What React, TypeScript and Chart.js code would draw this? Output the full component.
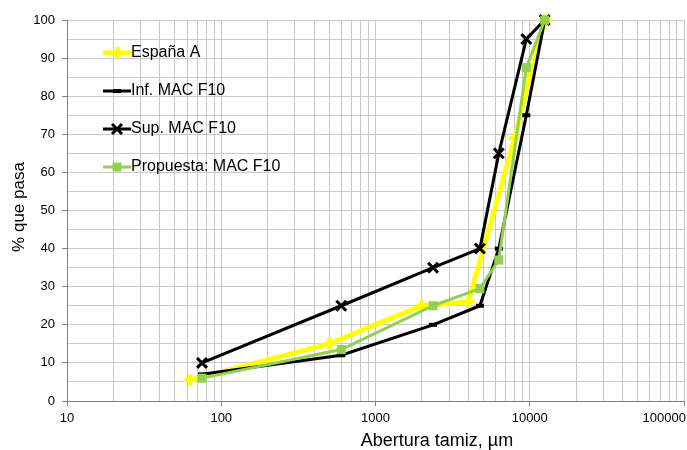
import React, { useEffect, useRef } from "react";
import { Chart, registerables } from "chart.js";

Chart.register(...registerables);

// ---- data ----
const sievesEspana = [63, 500, 2000, 4000, 8000, 10000, 12500];
const espanaA = [5.5, 15, 25, 26, 69, 85, 100];

const sievesMac = [75, 600, 2360, 4750, 6300, 9500, 12500];
const infMac = [7, 12, 20, 25, 40, 75, 100];
const supMac = [10, 25, 35, 40, 65, 95, 100];
const propuesta = [6, 13.5, 25, 29.5, 37, 87.5, 100];

const seriesNames = ["España A", "Inf. MAC F10", "Sup. MAC F10", "Propuesta: MAC F10"];
const xTickLabels = ["10", "100", "1000", "10000", "100000"];
const xTitle = "Abertura tamiz, µm";
const yTitle = "% que pasa";

const FONT = '"Liberation Sans", Arial, Helvetica, sans-serif';
const YELLOW = "#FFFF00";
const GREEN = "#92D050";
const BLACK = "#000000";

const pts = (xs: number[], ys: number[]) => xs.map((x, i) => ({ x, y: ys[i] }));

const isDecade = (v: number | undefined) => {
  if (!v || v <= 0) return false;
  const l = Math.log10(v);
  return Math.abs(l - Math.round(l)) < 1e-9;
};

// grid values for the log axis: 1..9 x each decade
const xGridValues: number[] = [];
for (let e = 1; e <= 4; e++) {
  for (let m = 1; m <= 9; m++) xGridValues.push(m * Math.pow(10, e));
}
xGridValues.push(100000);

function drawMarker(ctx: CanvasRenderingContext2D, style: string, x: number, y: number, color: string) {
  ctx.save();
  ctx.strokeStyle = color;
  ctx.fillStyle = color;
  ctx.beginPath();
  if (style === "cross") {
    ctx.lineWidth = 4;
    ctx.moveTo(x - 6, y);
    ctx.lineTo(x + 6, y);
    ctx.moveTo(x, y - 6);
    ctx.lineTo(x, y + 6);
    ctx.stroke();
  } else if (style === "crossRot") {
    ctx.lineWidth = 3;
    ctx.moveTo(x - 5, y - 5);
    ctx.lineTo(x + 5, y + 5);
    ctx.moveTo(x + 5, y - 5);
    ctx.lineTo(x - 5, y + 5);
    ctx.stroke();
  } else if (style === "line") {
    ctx.lineWidth = 4;
    ctx.moveTo(x - 4, y);
    ctx.lineTo(x + 4, y);
    ctx.stroke();
  } else if (style === "rect") {
    ctx.fillRect(x - 4.5, y - 4.5, 9, 9);
  }
  ctx.restore();
}

const overlayPlugin = {
  id: "overlay",
  afterDraw(chart: any) {
    const ctx: CanvasRenderingContext2D = chart.ctx;
    const xs = chart.scales.x;
    const area = chart.chartArea;
    ctx.save();

    // x tick labels (kept inside the canvas like the original)
    ctx.font = `13px ${FONT}`;
    ctx.fillStyle = "#000";
    ctx.textAlign = "center";
    ctx.textBaseline = "middle";
    for (const lab of xTickLabels) {
      const v = Number(lab);
      const px = xs.getPixelForValue(v);
      const w = ctx.measureText(lab).width;
      const cx = Math.min(px, chart.width - w / 2 - 1);
      ctx.fillText(lab, cx, area.bottom + 17);
    }

    // axis titles
    ctx.font = `18px ${FONT}`;
    ctx.fillText(xTitle, 437, area.bottom + 40);

    ctx.save();
    ctx.translate(19, 207);
    ctx.rotate(-Math.PI / 2);
    ctx.font = `17px ${FONT}`;
    ctx.fillText(yTitle, 0, 0);
    ctx.restore();

    // legend inside the plot area
    const datasets = chart.data.datasets;
    ctx.font = `16px ${FONT}`;
    ctx.textAlign = "left";
    ctx.textBaseline = "middle";
    datasets.forEach((ds: any, i: number) => {
      const y = area.top + 33 + i * 38;
      ctx.save();
      ctx.strokeStyle = ds.borderColor;
      ctx.lineWidth = ds.borderWidth;
      ctx.beginPath();
      ctx.moveTo(103, y);
      ctx.lineTo(131, y);
      ctx.stroke();
      ctx.restore();
      drawMarker(ctx, ds.pointStyle, 117, y, ds.pointBorderColor);
      ctx.fillStyle = "#000";
      ctx.fillText(ds.label, 131, y);
    });

    ctx.restore();
  },
};

export default function App() {
  const ref = useRef<HTMLCanvasElement | null>(null);

  useEffect(() => {
    document.body.style.margin = "0";
    const canvas = ref.current;
    if (!canvas) return;

    const chart = new Chart(canvas, {
      type: "scatter",
      data: {
        datasets: [
          {
            label: seriesNames[0],
            data: pts(sievesEspana, espanaA),
            showLine: true,
            borderColor: YELLOW,
            backgroundColor: YELLOW,
            borderWidth: 5,
            pointStyle: "cross",
            pointRadius: 6,
            pointBorderWidth: 4,
            pointBorderColor: YELLOW,
            pointBackgroundColor: YELLOW,
            order: 4,
            clip: false,
          },
          {
            label: seriesNames[1],
            data: pts(sievesMac, infMac),
            showLine: true,
            borderColor: BLACK,
            backgroundColor: BLACK,
            borderWidth: 3,
            pointStyle: "line",
            pointRadius: 4,
            pointBorderWidth: 4,
            pointBorderColor: BLACK,
            pointBackgroundColor: BLACK,
            order: 3,
            clip: false,
          },
          {
            label: seriesNames[2],
            data: pts(sievesMac, supMac),
            showLine: true,
            borderColor: BLACK,
            backgroundColor: BLACK,
            borderWidth: 3,
            pointStyle: "crossRot",
            pointRadius: 7,
            pointBorderWidth: 3,
            pointBorderColor: BLACK,
            pointBackgroundColor: BLACK,
            order: 2,
            clip: false,
          },
          {
            label: seriesNames[3],
            data: pts(sievesMac, propuesta),
            showLine: true,
            borderColor: GREEN,
            backgroundColor: GREEN,
            borderWidth: 3,
            pointStyle: "rect",
            pointRadius: 6.4,
            pointBorderWidth: 0,
            pointBorderColor: GREEN,
            pointBackgroundColor: GREEN,
            order: 1,
            clip: false,
          },
        ] as any,
      },
      options: {
        animation: false,
        responsive: false,
        devicePixelRatio: 1,
        layout: { autoPadding: false, padding: { left: 0, top: 20, right: 3, bottom: 0 } },
        elements: { line: { tension: 0 } },
        plugins: {
          legend: { display: false },
          tooltip: { enabled: false },
          title: { display: false },
        },
        scales: {
          x: {
            type: "logarithmic",
            min: 10,
            max: 100000,
            afterBuildTicks: (s: any) => {
              s.ticks = xGridValues.map((v) => ({ value: v, major: isDecade(v) }));
            },
            ticks: { display: false, autoSkip: false },
            grid: {
              color: "#c8c8c8",
              lineWidth: 1,
              drawTicks: true,
              tickLength: 5,
              tickColor: (c: any) => (isDecade(c.tick && c.tick.value) ? "#808080" : "rgba(0,0,0,0)"),
            },
            border: { color: "#808080", width: 1 },
            afterFit: (s: any) => {
              s.height = 49;
              s.paddingLeft = 0;
              s.paddingRight = 0;
            },
          },
          y: {
            type: "linear",
            min: 0,
            max: 100,
            ticks: {
              stepSize: 5,
              autoSkip: false,
              padding: 7,
              color: "#000",
              font: { size: 13, family: FONT },
              callback: (v: any) => (Number(v) % 10 === 0 ? String(v) : ""),
            },
            grid: {
              color: "#c8c8c8",
              lineWidth: 1,
              drawTicks: true,
              tickLength: 5,
              tickColor: (c: any) => (c.tick && c.tick.value % 10 === 0 ? "#808080" : "rgba(0,0,0,0)"),
            },
            border: { color: "#808080", width: 1 },
            afterFit: (s: any) => {
              s.width = 67;
            },
          },
        },
      } as any,
      plugins: [overlayPlugin],
    });

    return () => chart.destroy();
  }, []);

  return (
    <div style={{ width: 687, height: 450, background: "#fff" }}>
      <canvas ref={ref} width={687} height={450} style={{ display: "block" }} />
    </div>
  );
}
